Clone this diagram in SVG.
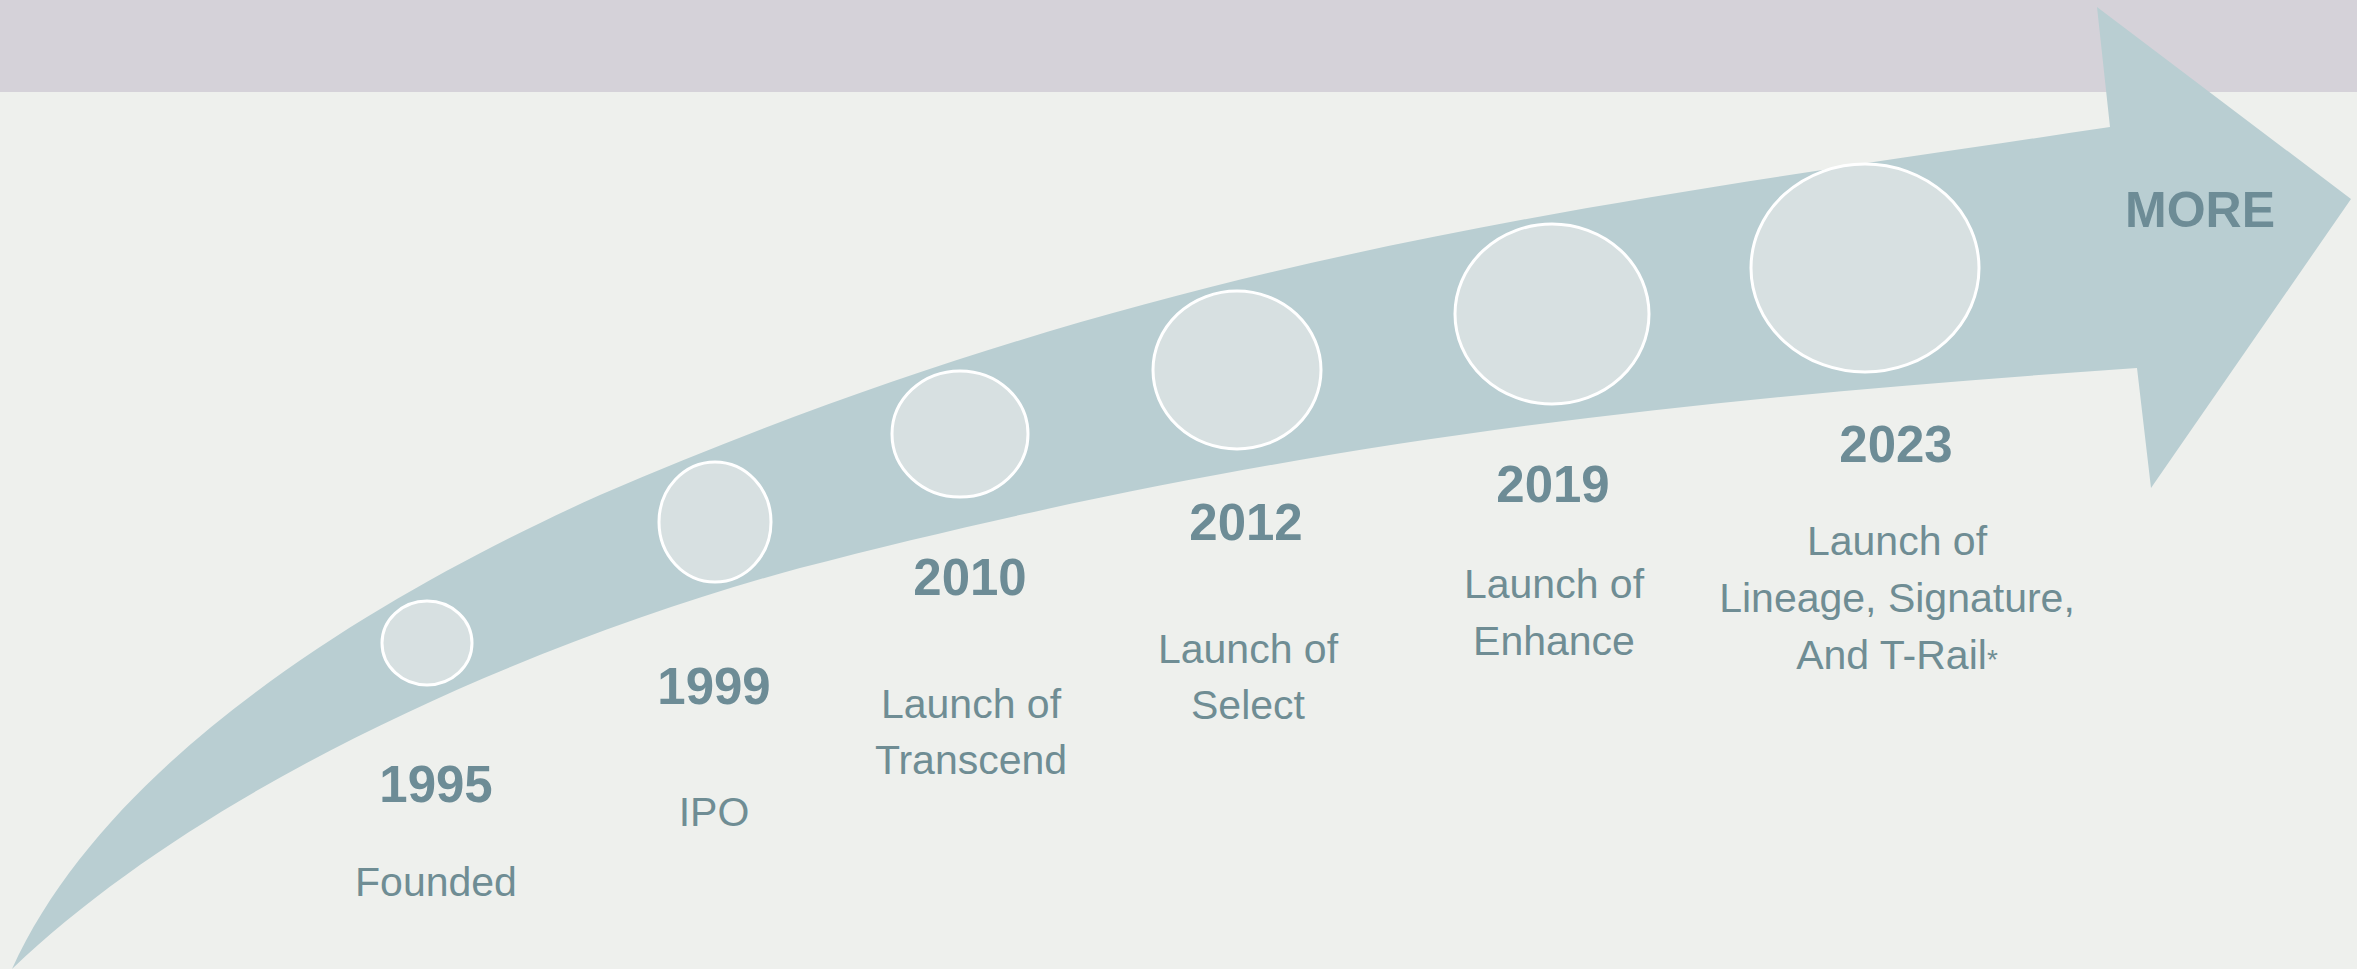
<svg xmlns="http://www.w3.org/2000/svg" width="2357" height="969" viewBox="0 0 2357 969">
<style>
.yr{font-family:"Liberation Sans",Arial,sans-serif;font-weight:bold;font-size:51px;fill:#6d8c96;text-anchor:middle}
.lb{font-family:"Liberation Sans",Arial,sans-serif;font-size:41px;fill:#6f8d94;text-anchor:middle}
.dot{fill:#d7e0e1;stroke:#ffffff;stroke-width:3}
</style>
<rect x="0" y="0" width="2357" height="969" fill="#eef0ed"/>
<rect x="0" y="0" width="2357" height="92" fill="#d5d2d9"/>
<g id="connectors">
<path id="arrow" d="M12,969 C112.8,747 400,585 600,495 C1150,258.5 1560,209.5 2110,127 L2097,7 L2351,199 L2151,488 L2137,368 C1687,399.5 1300,438 800,568 C550,635.5 212.8,777 12,969 Z" fill="#b9ced2"/>
</g>
<g id="node-1995">
<ellipse class="dot" cx="427" cy="643" rx="45" ry="42"/>
<text class="yr" x="436" y="802">1995</text>
<text class="lb" x="436" y="896">Founded</text>
</g>
<g id="node-1999">
<ellipse class="dot" cx="715" cy="522" rx="56" ry="60"/>
<text class="yr" x="714" y="704">1999</text>
<text class="lb" x="714" y="826">IPO</text>
</g>
<g id="node-2010">
<ellipse class="dot" cx="960" cy="434" rx="68" ry="63"/>
<text class="yr" x="970" y="595">2010</text>
<text class="lb" x="971" y="718">Launch of</text>
<text class="lb" x="971" y="774">Transcend</text>
</g>
<g id="node-2012">
<ellipse class="dot" cx="1237" cy="370" rx="84" ry="79"/>
<text class="yr" x="1246" y="540">2012</text>
<text class="lb" x="1248" y="663">Launch of</text>
<text class="lb" x="1248" y="719">Select</text>
</g>
<g id="node-2019">
<ellipse class="dot" cx="1552" cy="314" rx="97" ry="90"/>
<text class="yr" x="1553" y="502">2019</text>
<text class="lb" x="1554" y="598">Launch of</text>
<text class="lb" x="1554" y="655">Enhance</text>
</g>
<g id="node-2023">
<ellipse class="dot" cx="1865" cy="268" rx="114" ry="104"/>
<text class="yr" x="1896" y="462">2023</text>
<text class="lb" x="1897" y="555">Launch of</text>
<text class="lb" x="1897" y="612">Lineage, Signature,</text>
<text class="lb" x="1897" y="669">And T-Rail<tspan font-size="28">*</tspan></text>
</g>
<g id="node-more">
<text class="yr" x="2200" y="227" style="font-size:50px">MORE</text>
</g>
</svg>
